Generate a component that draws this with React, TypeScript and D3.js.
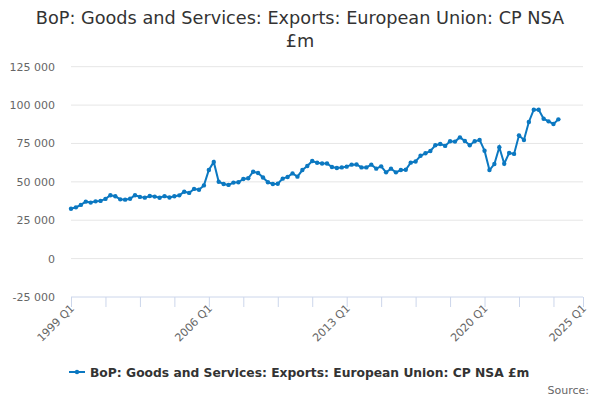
import React from 'react';
import * as d3 from 'd3';

// Quarterly exports to the EU, £m, from 1999 Q1
const startYear = 1999;
const exportValues = [
  32500, 33400, 35000, 37100, 36500, 37300, 37600, 38900, 41300, 40600,
  38600, 38400, 39000, 41300, 40200, 39700, 40800, 40400, 39600, 40700,
  39800, 40600, 41200, 43600, 42800, 45400, 44900, 47700, 57700, 63000,
  50100, 48600, 48000, 49500, 49700, 51900, 52300, 56600, 55800, 52800,
  49700, 48600, 48800, 52100, 53200, 55500, 53400, 57700, 60300, 63600,
  62400, 62000, 62000, 59700, 59000, 59400, 59900, 61200, 61300, 59400,
  59400, 61200, 58600, 60100, 56200, 58600, 56200, 57700, 57900, 62500,
  63300, 67000, 68600, 70100, 73800, 74700, 73400, 76400, 76200, 79000,
  76600, 73800, 76400, 77300, 70300, 57700, 61600, 72500, 61800, 68800,
  68200, 80300, 77300, 89000, 97000, 97000, 91100, 89400, 87700, 90700,
];
const xTickLabels = ['1999 Q1', '2006 Q1', '2013 Q1', '2020 Q1', '2025 Q1'];
const yTicks = [-25000, 0, 25000, 50000, 75000, 100000, 125000];

const seriesName = 'BoP: Goods and Services: Exports: European Union: CP NSA £m';
const font = '"DejaVu Sans", sans-serif';
const lineColor = '#0b78c1';

const quarterIndex = (label: string) => {
  const [y, q] = label.split(' Q');
  return (+y - startYear) * 4 + (+q - 1);
};

export default function App() {
  const width = 600;
  const height = 400;
  const plot = { left: 71, right: 583, top: 66.7, bottom: 297 };

  const lastIndex = quarterIndex(xTickLabels[xTickLabels.length - 1]);
  const x = d3.scaleLinear().domain([0, lastIndex]).range([plot.left, plot.right]);
  const y = d3.scaleLinear().domain([-25000, 125000]).range([plot.bottom, plot.top]);

  const line = d3
    .line<number>()
    .x((_, i) => x(i))
    .y((d) => y(d));

  // minor ticks every 7 quarters, plus the end of the axis
  const tickIdx = d3.range(0, lastIndex, 7).concat([lastIndex]);
  const fmt = (v: number) => (v < 0 ? '-' : '') + d3.format(',')(Math.abs(v)).replace(/,/g, ' ');

  return (
    <svg
      width={width}
      height={height}
      style={{ position: 'absolute', left: 0, top: 0, fontFamily: font }}
    >
      <rect width={width} height={height} fill="#ffffff" />

      <text x={300} y={24} textAnchor="middle" fontSize={17.7} fill="#333333">
        BoP: Goods and Services: Exports: European Union: CP NSA
      </text>
      <text x={300} y={47} textAnchor="middle" fontSize={17.7} fill="#333333">
        £m
      </text>

      {/* grid + y labels */}
      {yTicks.map((t) => (
        <g key={t}>
          {t !== -25000 && (
            <line x1={plot.left} x2={plot.right} y1={y(t)} y2={y(t)} stroke="#e6e6e6" />
          )}
          <text x={55} y={y(t) + 4} textAnchor="end" fontSize={11} fill="#666666">
            {fmt(t)}
          </text>
        </g>
      ))}

      {/* x axis */}
      <line x1={plot.left} x2={plot.right} y1={plot.bottom} y2={plot.bottom} stroke="#ccd6eb" />
      {tickIdx.map((i) => (
        <line
          key={i}
          x1={x(i) + 0.5}
          x2={x(i) + 0.5}
          y1={plot.bottom}
          y2={plot.bottom + 10}
          stroke="#ccd6eb"
        />
      ))}
      {xTickLabels.map((l) => {
        const px = x(quarterIndex(l)) + 4;
        const py = plot.bottom + 12;
        return (
          <text
            key={l}
            x={px}
            y={py}
            transform={`rotate(-45, ${px}, ${py})`}
            textAnchor="end"
            fontSize={11}
            fill="#666666"
          >
            {l}
          </text>
        );
      })}

      {/* series */}
      <path d={line(exportValues) || ''} fill="none" stroke={lineColor} strokeWidth={2} />
      {exportValues.map((v, i) => (
        <circle key={i} cx={x(i)} cy={y(v)} r={2.2} fill={lineColor} />
      ))}

      {/* legend */}
      <line x1={69} x2={85} y1={372} y2={372} stroke={lineColor} strokeWidth={2} />
      <circle cx={77} cy={372} r={2.2} fill={lineColor} />
      <text x={90} y={376.5} fontSize={12.3} fontWeight="bold" fill="#333333">
        {seriesName}
      </text>

      <text x={589} y={394} textAnchor="end" fontSize={11} fill="#666666">
        Source:
      </text>
    </svg>
  );
}
